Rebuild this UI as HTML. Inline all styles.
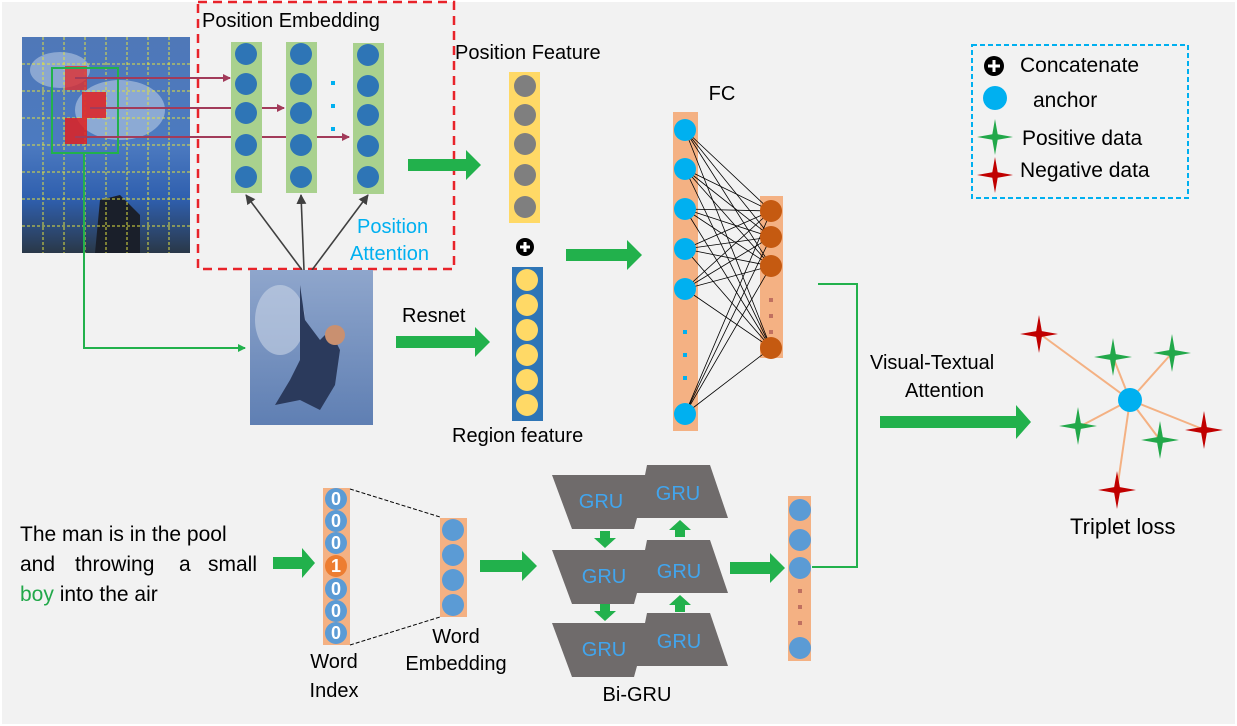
<!DOCTYPE html>
<html><head><meta charset="utf-8"><style>
html,body{margin:0;padding:0;background:#fff}
svg{display:block}
text{font-family:"Liberation Sans",sans-serif}
</style></head><body>
<svg width="1237" height="726" viewBox="0 0 1237 726" xmlns="http://www.w3.org/2000/svg">
<defs>
<linearGradient id="sky1" x1="0" y1="0" x2="0" y2="1"><stop offset="0" stop-color="#4f78b8"/><stop offset="0.5" stop-color="#4c7ac0"/><stop offset="0.75" stop-color="#2f5fae"/><stop offset="1" stop-color="#2a3848"/></linearGradient>
<linearGradient id="sky2" x1="0" y1="0" x2="0" y2="1"><stop offset="0" stop-color="#8fa6cc"/><stop offset="1" stop-color="#5f7fb3"/></linearGradient>
<marker id="ar" markerWidth="8" markerHeight="8" refX="7" refY="4" orient="auto" markerUnits="userSpaceOnUse"><path d="M0,0 L8,4 L0,8z" fill="#a23b5a"/></marker>
<marker id="ab" markerWidth="10" markerHeight="10" refX="9" refY="5" orient="auto" markerUnits="userSpaceOnUse"><path d="M0,0 L10,5 L0,10z" fill="#404040"/></marker>
<marker id="ag" markerWidth="8" markerHeight="8" refX="7" refY="4" orient="auto" markerUnits="userSpaceOnUse"><path d="M0,0 L8,4 L0,8z" fill="#22b14c"/></marker>
<symbol id="star" viewBox="-20 -20 40 40"><path d="M0,-20 L3,-3 L20,0 L3,3 L0,20 L-3,3 L-20,0 L-3,-3z"/></symbol>
</defs>
<rect x="2" y="2" width="1233" height="722" fill="#f2f2f2"/>

<!-- photo 1 -->
<rect x="22" y="37" width="168" height="216" fill="url(#sky1)"/>
<ellipse cx="120" cy="110" rx="45" ry="30" fill="#b8c9e2" opacity="0.6"/>
<ellipse cx="60" cy="70" rx="30" ry="18" fill="#c8d6ea" opacity="0.5"/>
<path d="M95,253 L100,200 L120,195 L140,215 L140,253z" fill="#1a1f2a"/>
<g stroke="#e0e040" stroke-width="1" stroke-dasharray="3,2">
<line x1="43" y1="37" x2="43" y2="253"/><line x1="64" y1="37" x2="64" y2="253"/><line x1="85" y1="37" x2="85" y2="253"/><line x1="106" y1="37" x2="106" y2="253"/><line x1="127" y1="37" x2="127" y2="253"/><line x1="148" y1="37" x2="148" y2="253"/><line x1="169" y1="37" x2="169" y2="253"/>
<line x1="22" y1="64" x2="190" y2="64"/><line x1="22" y1="91" x2="190" y2="91"/><line x1="22" y1="118" x2="190" y2="118"/><line x1="22" y1="145" x2="190" y2="145"/><line x1="22" y1="172" x2="190" y2="172"/><line x1="22" y1="199" x2="190" y2="199"/><line x1="22" y1="226" x2="190" y2="226"/>
</g>
<rect x="65" y="66" width="22" height="24" fill="#e03030" opacity="0.8"/>
<rect x="82" y="92" width="24" height="26" fill="#e02020" opacity="0.85"/>
<rect x="65" y="118" width="22" height="26" fill="#e02020" opacity="0.85"/>
<rect x="52" y="68" width="66" height="85" fill="none" stroke="#22b14c" stroke-width="2"/>
<g stroke="#a23b5a" stroke-width="2" fill="none">
<line x1="75" y1="78" x2="230" y2="78" marker-end="url(#ar)"/>
<line x1="90" y1="108" x2="284" y2="108" marker-end="url(#ar)"/>
<line x1="75" y1="137" x2="349" y2="137" marker-end="url(#ar)"/>
</g>

<!-- position embedding -->
<rect x="198" y="2" width="256" height="267" fill="none" stroke="#e8232a" stroke-width="2.5" stroke-dasharray="9,6"/>
<text x="202" y="27" font-size="20">Position Embedding</text>
<g fill="#a9d18e"><rect x="231" y="42" width="31" height="151"/><rect x="286" y="42" width="31" height="151"/><rect x="353" y="43" width="31" height="151"/></g>
<g fill="#2e75b6">
<circle cx="246" cy="54" r="11"/><circle cx="246" cy="84" r="11"/><circle cx="246" cy="113" r="11"/><circle cx="246" cy="145" r="11"/><circle cx="246" cy="177" r="11"/>
<circle cx="301" cy="54" r="11"/><circle cx="301" cy="84" r="11"/><circle cx="301" cy="113" r="11"/><circle cx="301" cy="145" r="11"/><circle cx="301" cy="177" r="11"/>
<circle cx="368" cy="55" r="11"/><circle cx="368" cy="86" r="11"/><circle cx="368" cy="115" r="11"/><circle cx="368" cy="146" r="11"/><circle cx="368" cy="177" r="11"/>
</g>
<g fill="#00b0f0"><rect x="331" y="81" width="4" height="4"/><rect x="331" y="104" width="4" height="4"/><rect x="331" y="127" width="4" height="4"/></g>
<g stroke="#404040" stroke-width="1.6">
<line x1="302" y1="270" x2="246" y2="195" marker-end="url(#ab)"/>
<line x1="304" y1="270" x2="301" y2="195" marker-end="url(#ab)"/>
<line x1="312" y1="270" x2="368" y2="195" marker-end="url(#ab)"/>
</g>
<text x="357" y="233" font-size="20" fill="#00b0f0">Position</text>
<text x="350" y="260" font-size="20" fill="#00b0f0">Attention</text>

<!-- photo 2 -->
<rect x="250" y="270" width="123" height="155" fill="url(#sky2)"/>
<ellipse cx="280" cy="320" rx="25" ry="35" fill="#c8d4e6" opacity="0.6"/>
<path d="M300,285 L305,320 L320,340 L330,330 L340,350 L335,385 L320,410 L300,400 L275,405 L290,380 L300,360z" fill="#2b3a5c"/>
<circle cx="335" cy="335" r="10" fill="#c99070"/>

<!-- green link -->
<polyline points="84,153 84,348 245,348" fill="none" stroke="#22b14c" stroke-width="2" marker-end="url(#ag)"/>

<!-- big green arrows -->
<g fill="#22b14c">
<path d="M408,159 L466,159 L466,150 L481,165 L466,180 L466,171 L408,171z"/>
<path d="M396,336 L475,336 L475,327 L490,342 L475,357 L475,348 L396,348z"/>
<path d="M566,249 L627,249 L627,240 L642,255 L627,270 L627,261 L566,261z"/>
<path d="M880,416 L1016,416 L1016,405 L1031,422 L1016,439 L1016,428 L880,428z"/>
<path d="M273,557 L302,557 L302,548 L315,563 L302,578 L302,569 L273,569z"/>
<path d="M480,560 L522,560 L522,551 L537,566 L522,581 L522,572 L480,572z"/>
<path d="M730,562 L770,562 L770,553 L785,568 L770,583 L770,574 L730,574z"/>
</g>

<!-- position feature -->
<text x="455" y="59" font-size="20">Position Feature</text>
<rect x="509" y="72" width="31" height="151" fill="#ffd966"/>
<g fill="#7f7f7f"><circle cx="525" cy="86" r="11"/><circle cx="525" cy="115" r="11"/><circle cx="525" cy="144" r="11"/><circle cx="525" cy="175" r="11"/><circle cx="525" cy="207" r="11"/></g>
<circle cx="525" cy="247" r="9" fill="#000"/>
<path d="M520,247 H530 M525,242 V252" stroke="#fff" stroke-width="3"/>

<!-- region feature -->
<rect x="512" y="267" width="31" height="154" fill="#2e75b6"/>
<g fill="#ffd966"><circle cx="527" cy="280" r="11"/><circle cx="527" cy="305" r="11"/><circle cx="527" cy="330" r="11"/><circle cx="527" cy="355" r="11"/><circle cx="527" cy="380" r="11"/><circle cx="527" cy="405" r="11"/></g>
<text x="402" y="322" font-size="20">Resnet</text>
<text x="452" y="442" font-size="20">Region feature</text>

<!-- FC -->
<text x="722" y="100" font-size="20" text-anchor="middle">FC</text>
<rect x="673" y="112" width="25" height="319" fill="#f4b183"/>
<rect x="760" y="196" width="23" height="162" fill="#f4b183"/>
<g stroke="#000" stroke-width="0.8">
<line x1="685" y1="130" x2="771" y2="211"/><line x1="685" y1="130" x2="771" y2="237"/><line x1="685" y1="130" x2="771" y2="266"/><line x1="685" y1="130" x2="771" y2="348"/>
<line x1="685" y1="169" x2="771" y2="211"/><line x1="685" y1="169" x2="771" y2="237"/><line x1="685" y1="169" x2="771" y2="266"/><line x1="685" y1="169" x2="771" y2="348"/>
<line x1="685" y1="209" x2="771" y2="211"/><line x1="685" y1="209" x2="771" y2="237"/><line x1="685" y1="209" x2="771" y2="266"/><line x1="685" y1="209" x2="771" y2="348"/>
<line x1="685" y1="249" x2="771" y2="211"/><line x1="685" y1="249" x2="771" y2="237"/><line x1="685" y1="249" x2="771" y2="266"/><line x1="685" y1="249" x2="771" y2="348"/>
<line x1="685" y1="289" x2="771" y2="211"/><line x1="685" y1="289" x2="771" y2="237"/><line x1="685" y1="289" x2="771" y2="266"/><line x1="685" y1="289" x2="771" y2="348"/>
<line x1="685" y1="414" x2="771" y2="211"/><line x1="685" y1="414" x2="771" y2="237"/><line x1="685" y1="414" x2="771" y2="266"/><line x1="685" y1="414" x2="771" y2="348"/>
</g>
<g fill="#00b0f0"><circle cx="685" cy="130" r="11"/><circle cx="685" cy="169" r="11"/><circle cx="685" cy="209" r="11"/><circle cx="685" cy="249" r="11"/><circle cx="685" cy="289" r="11"/><circle cx="685" cy="414" r="11"/>
<rect x="683" y="330" width="4" height="4"/><rect x="683" y="353" width="4" height="4"/><rect x="683" y="376" width="4" height="4"/></g>
<g fill="#c55a11"><circle cx="771" cy="211" r="11"/><circle cx="771" cy="237" r="11"/><circle cx="771" cy="266" r="11"/><circle cx="771" cy="348" r="11"/></g>
<g fill="#c07060"><rect x="769" y="298" width="4" height="4"/><rect x="769" y="314" width="4" height="4"/><rect x="769" y="330" width="4" height="4"/></g>

<polyline points="818,284 857,284 857,567 812,567" fill="none" stroke="#22b14c" stroke-width="2"/>
<text x="870" y="369" font-size="20">Visual-Textual</text>
<text x="905" y="397" font-size="20">Attention</text>

<!-- triplet -->
<g stroke="#f4b183" stroke-width="2">
<line x1="1130" y1="400" x2="1040" y2="334"/><line x1="1130" y1="400" x2="1113" y2="357"/><line x1="1130" y1="400" x2="1172" y2="353"/>
<line x1="1130" y1="400" x2="1079" y2="427"/><line x1="1130" y1="400" x2="1160" y2="440"/><line x1="1130" y1="400" x2="1205" y2="430"/><line x1="1130" y1="400" x2="1117" y2="490"/>
</g>
<circle cx="1130" cy="400" r="12" fill="#00b0f0"/>
<g fill="#c00000"><use href="#star" x="1020" y="314" width="38" height="40"/><use href="#star" x="1185" y="410" width="38" height="40"/><use href="#star" x="1098" y="470" width="38" height="40"/></g>
<g fill="#22a84a"><use href="#star" x="1094" y="337" width="38" height="40"/><use href="#star" x="1153" y="333" width="38" height="40"/><use href="#star" x="1059" y="406" width="38" height="40"/><use href="#star" x="1141" y="420" width="38" height="40"/></g>
<text x="1070" y="534" font-size="22">Triplet loss</text>

<!-- legend -->
<rect x="972" y="45" width="216" height="153" fill="none" stroke="#00b0f0" stroke-width="2" stroke-dasharray="5,3"/>
<circle cx="994" cy="66" r="10" fill="#000"/><path d="M988,66 H1000 M994,60 V72" stroke="#fff" stroke-width="3"/>
<text x="1020" y="72" font-size="21">Concatenate</text>
<circle cx="995" cy="98" r="12" fill="#00b0f0"/>
<text x="1033" y="107" font-size="21">anchor</text>
<use href="#star" x="977" y="117" width="36" height="40" fill="#22a84a"/>
<text x="1022" y="145" font-size="21">Positive data</text>
<use href="#star" x="977" y="155" width="36" height="40" fill="#c00000"/>
<text x="1020" y="177" font-size="21">Negative data</text>

<!-- bottom text -->
<text x="20" y="541" font-size="21">The man is in the pool</text>
<text y="571" font-size="21"><tspan x="20">and</tspan><tspan x="75">throwing</tspan><tspan x="179">a</tspan><tspan x="208">small</tspan></text>
<text x="20" y="601" font-size="21"><tspan fill="#22a84a">boy</tspan> into the air</text>

<!-- word index -->
<rect x="323" y="488" width="27" height="157" fill="#f4b183"/>
<g font-size="18" font-weight="bold" text-anchor="middle">
<circle cx="336" cy="499" r="11" fill="#5b9bd5"/><text x="336" y="505" fill="#fff">0</text>
<circle cx="336" cy="521" r="11" fill="#5b9bd5"/><text x="336" y="527" fill="#fff">0</text>
<circle cx="336" cy="543" r="11" fill="#5b9bd5"/><text x="336" y="549" fill="#fff">0</text>
<circle cx="336" cy="566" r="11" fill="#ed7d31"/><text x="336" y="572" fill="#fff">1</text>
<circle cx="336" cy="589" r="11" fill="#5b9bd5"/><text x="336" y="595" fill="#fff">0</text>
<circle cx="336" cy="611" r="11" fill="#5b9bd5"/><text x="336" y="617" fill="#fff">0</text>
<circle cx="336" cy="633" r="11" fill="#5b9bd5"/><text x="336" y="639" fill="#fff">0</text>
</g>
<g stroke="#000" stroke-width="1" stroke-dasharray="4,2"><line x1="350" y1="489" x2="440" y2="517"/><line x1="350" y1="645" x2="440" y2="617"/></g>
<rect x="440" y="518" width="27" height="99" fill="#f4b183"/>
<g fill="#5b9bd5"><circle cx="453" cy="530" r="11"/><circle cx="453" cy="555" r="11"/><circle cx="453" cy="580" r="11"/><circle cx="453" cy="605" r="11"/></g>
<text x="334" y="668" font-size="20" text-anchor="middle">Word</text>
<text x="334" y="697" font-size="20" text-anchor="middle">Index</text>
<text x="456" y="643" font-size="20" text-anchor="middle">Word</text>
<text x="456" y="670" font-size="20" text-anchor="middle">Embedding</text>

<!-- GRU -->
<g fill="#6f6b6b">
<polygon points="552,475 645,475 647,465 710,465 728,518 637,518 634,529 572,529"/>
<polygon points="552,550 645,550 647,540 710,540 728,593 637,593 634,604 572,604"/>
<polygon points="552,623 645,623 647,613 710,613 728,666 637,666 634,677 572,677"/>
</g>
<g font-size="20" fill="#41a5ee" text-anchor="middle">
<text x="601" y="508">GRU</text><text x="678" y="500">GRU</text>
<text x="604" y="583">GRU</text><text x="679" y="578">GRU</text>
<text x="604" y="656">GRU</text><text x="679" y="648">GRU</text>
</g>
<g fill="#22b14c">
<path d="M600,531 h10 v7 h6 l-11,10 l-11,-10 h6z"/>
<path d="M600,604 h10 v7 h6 l-11,10 l-11,-10 h6z"/>
<path d="M675,537 h10 v-7 h6 l-11,-10 l-11,10 h6z"/>
<path d="M675,612 h10 v-7 h6 l-11,-10 l-11,10 h6z"/>
</g>
<text x="637" y="701" font-size="20" text-anchor="middle">Bi-GRU</text>

<rect x="788" y="496" width="23" height="165" fill="#f4b183"/>
<g fill="#5b9bd5"><circle cx="800" cy="510" r="11"/><circle cx="800" cy="540" r="11"/><circle cx="800" cy="568" r="11"/><circle cx="800" cy="648" r="11"/></g>
<g fill="#c07060"><rect x="798" y="589" width="4" height="4"/><rect x="798" y="605" width="4" height="4"/><rect x="798" y="621" width="4" height="4"/></g>
</svg>
</body></html>
